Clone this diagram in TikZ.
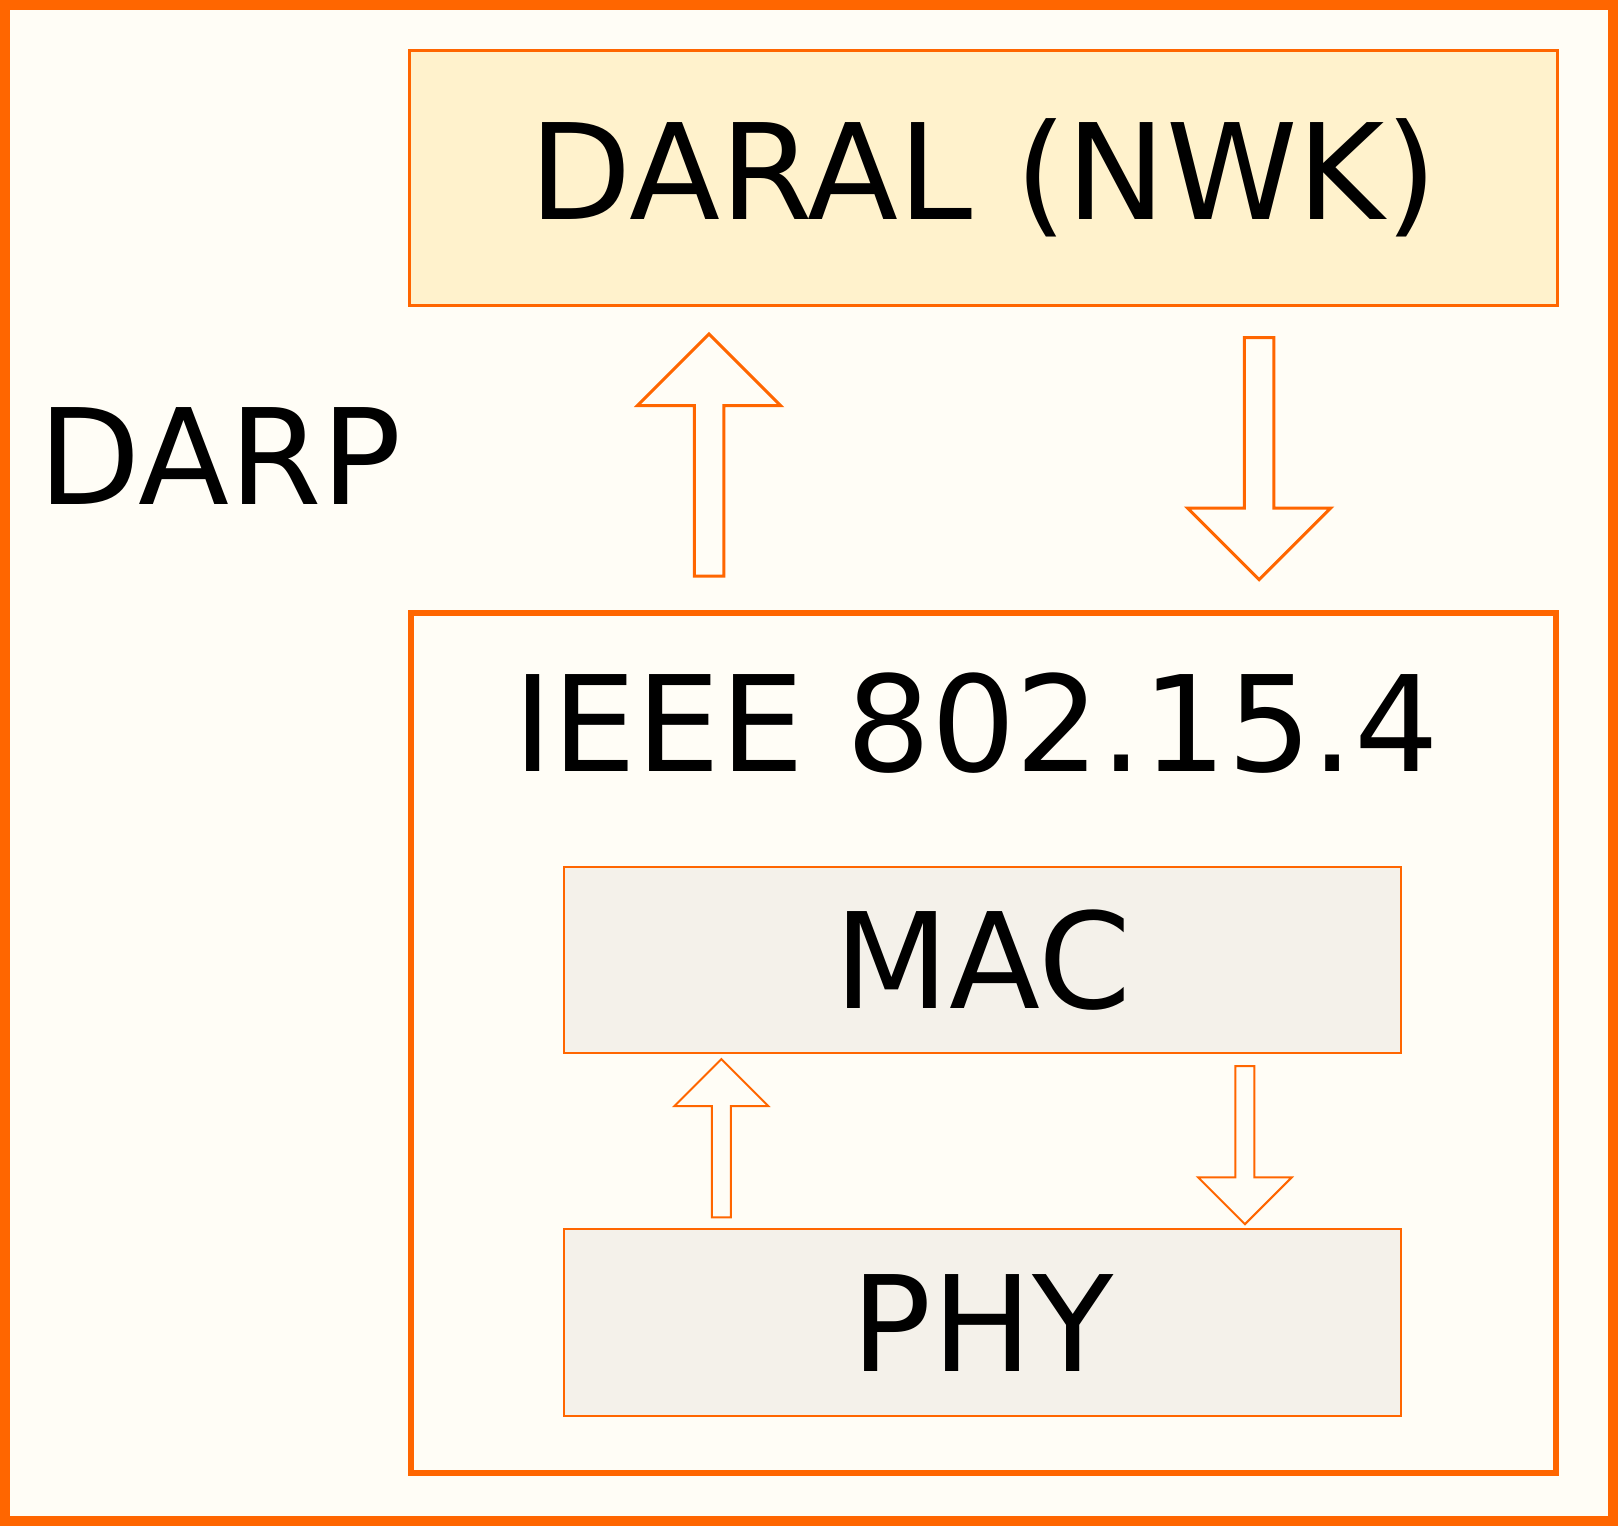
\documentclass[tikz,border=0pt]{standalone}
\usepackage{fontspec}
\setmainfont{DejaVu Sans}
\usetikzlibrary{positioning, shapes.arrows}

\definecolor{darporange}{HTML}{FF6600}
\definecolor{darpcream}{HTML}{FFFDF6}
\definecolor{nwkfill}{HTML}{FFF2CC}
\definecolor{macfill}{HTML}{F4F1EA}

\begin{document}
\begin{tikzpicture}[x=0.5pt, y=-0.5pt, on grid,
    bigfont/.style={font=\fontsize{66.5}{80}\selectfont},
    layer/.style={rectangle, draw=darporange, inner sep=0pt, outer sep=0pt,
        text height=52.8pt, text depth=3.9pt, bigfont},
    blockarrow/.style={single arrow, draw=darporange, fill=darpcream,
        inner xsep=0pt, outer sep=0pt, minimum width=0pt,
        single arrow tip angle=90},
    bigarrow/.style={blockarrow, line width=1.5pt, inner ysep=6.6pt,
        single arrow head extend=28.5pt, minimum height=121pt},
    smallarrow/.style={blockarrow, line width=1pt, inner ysep=4.25pt,
        single arrow head extend=18.7pt, minimum height=79.1pt}]
    \useasboundingbox (0,0) rectangle (1618,1526);

    % Outer frame: DARP
    \node[rectangle, draw=darporange, fill=darpcream, line width=5pt,
        minimum width=804pt, minimum height=758pt] (darp) at (809,763) {};
    \node[bigfont, inner sep=0pt, anchor=base west] (darplbl) at (38,504) {DARP};

    % Layers
    \node[layer, fill=nwkfill, line width=1.5pt, text depth=11.35pt,
        minimum width=573.6pt, minimum height=127.8pt] (daral) at (983.4,177.85) {DARAL (NWK)};
    \node[layer, fill=darpcream, line width=3pt,
        minimum width=572.6pt, minimum height=429.9pt] (ieee) at (983.1,1042.9) {};
    \node[bigfont, inner sep=0pt, anchor=base] (ieeelbl) at (976,771.2) {IEEE 802.15.4};
    \node[layer, fill=macfill, line width=1pt,
        minimum width=418.6pt, minimum height=93.2pt] (mac) at (982.65,960) {MAC};
    \node[layer, fill=macfill, line width=1pt,
        minimum width=418.6pt, minimum height=93.3pt] (phy) [below=181.3pt of mac] {PHY};

    % Arrows between layers
    \node[bigarrow, rotate=90, anchor=tail] (up1) at (709.1,576) {};
    \node[bigarrow, rotate=-90, anchor=tail] (down1) at (1259.1,337.7) {};
    \node[smallarrow, rotate=90, anchor=tail] (up2) at (721.3,1217.3) {};
    \node[smallarrow, rotate=-90, anchor=tail] (down2) at (1244.9,1066) {};

\end{tikzpicture}
\end{document}
